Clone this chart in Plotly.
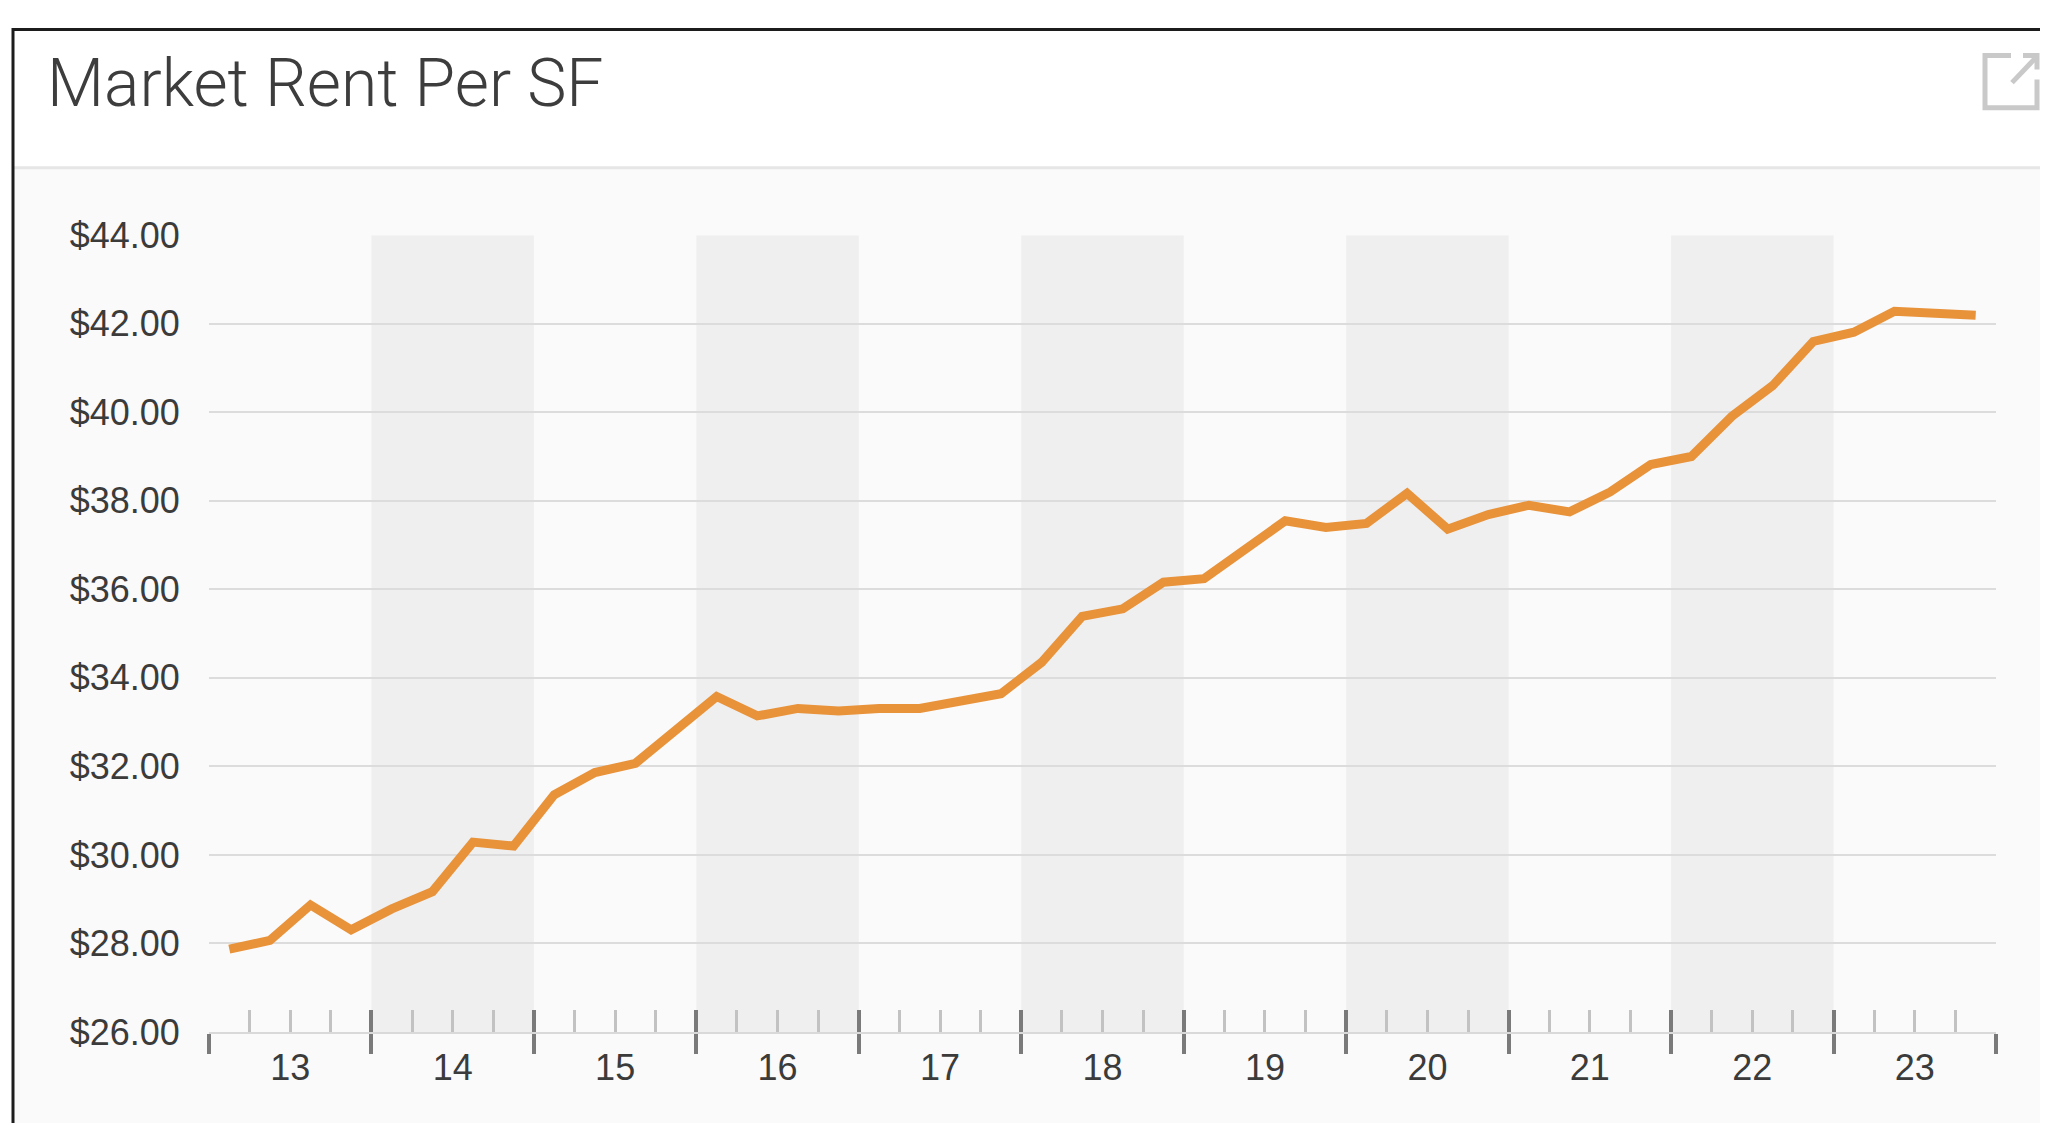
import plotly.graph_objects as go

# ---------------- data ----------------
years = [2013, 2014, 2015, 2016, 2017, 2018, 2019, 2020, 2021, 2022, 2023]
year_labels = ["13", "14", "15", "16", "17", "18", "19", "20", "21", "22", "23"]
quarters = [1, 2, 3, 4]
rent_per_sf = [
    27.87, 28.07, 28.87, 28.31,   # 2013
    28.78, 29.17, 30.29, 30.20,   # 2014
    31.36, 31.86, 32.07, 32.81,   # 2015
    33.58, 33.14, 33.31, 33.25,   # 2016
    33.31, 33.31, 33.46, 33.64,   # 2017
    34.35, 35.39, 35.56, 36.16,   # 2018
    36.24, 36.87, 37.55, 37.40,   # 2019
    37.49, 38.17, 37.36, 37.69,   # 2020
    37.90, 37.75, 38.20, 38.82,   # 2021
    39.00, 39.91, 40.60, 41.60,   # 2022
    41.81, 42.28, 42.25, 42.19,   # 2023
]
y_ticks = [26, 28, 30, 32, 34, 36, 38, 40, 42, 44]
y_tick_labels = ["$26.00", "$28.00", "$30.00", "$32.00", "$34.00",
                 "$36.00", "$38.00", "$40.00", "$42.00", "$44.00"]
shaded_years = [2014, 2016, 2018, 2020, 2022]
title_text = "Market Rent Per SF"

# derived positions (quarter centres, year boundaries, quarter ticks)
x_vals = [yr + (q - 0.5) / 4 for yr in years for q in quarters]
year_bounds = years + [years[-1] + 1]
year_centres = [yr + 0.5 for yr in years]
quarter_ticks = [yr + q / 4 for yr in years for q in (1, 2, 3)]

# ---------------- layout geometry ----------------
# figure size and how it lands in the captured page
W, H = 2040, 1136
OX, OY, SY = 8, 27.5, 0.962
# target page-pixel positions of the plot area
PL, PR, PT, PB = 209, 1996, 234.3, 1029.5


def px(x):
    return (x - OX) / W


def py(y):
    return 1 - ((y - OY) / SY) / H


LINE_COLOR = "#E8923A"
TEXT_COLOR = "#3b3b3b"
MAJOR_TICK = "#7a7a7a"
MINOR_TICK = "#c2c2c2"
ICON = "#c9c9c9"

fig = go.Figure()

fig.add_trace(go.Scatter(
    x=x_vals, y=rent_per_sf, mode="lines",
    line=dict(color=LINE_COLOR, width=9),
    hoverinfo="skip", showlegend=False,
))
# helper traces so the overlay axes get drawn
fig.add_trace(go.Scatter(x=x_vals, y=rent_per_sf, mode="none", xaxis="x2",
                         hoverinfo="skip", showlegend=False))
fig.add_trace(go.Scatter(x=x_vals, y=rent_per_sf, mode="none", xaxis="x3",
                         hoverinfo="skip", showlegend=False))

shapes = []
# card body background
shapes.append(dict(type="rect", xref="paper", yref="paper",
                   x0=px(14), x1=1, y0=0, y1=py(168),
                   fillcolor="#fafafa", line=dict(width=0), layer="below"))
# header separator
shapes.append(dict(type="line", xref="paper", yref="paper",
                   x0=px(14), x1=1, y0=py(167), y1=py(167),
                   line=dict(color="#e6e6e6", width=3), layer="below"))
# card border (top & left)
shapes.append(dict(type="line", xref="paper", yref="paper",
                   x0=px(12), x1=1, y0=py(OY + 1.5), y1=py(OY + 1.5),
                   line=dict(color="#1c1c1c", width=3)))
shapes.append(dict(type="line", xref="paper", yref="paper",
                   x0=px(13), x1=px(13), y0=0, y1=1,
                   line=dict(color="#1c1c1c", width=3)))
# alternating year bands
for yr in shaded_years:
    shapes.append(dict(type="rect", xref="x", yref="y",
                       x0=yr, x1=yr + 1, y0=y_ticks[0], y1=y_ticks[-1],
                       fillcolor="#efefef", line=dict(width=0), layer="below"))
# export icon
sq = "M {} {} L {} {} L {} {} L {} {} L {} {}".format(
    px(2011), py(55), px(1985), py(55), px(1985), py(107),
    px(2037), py(107), px(2037), py(79))
shapes.append(dict(type="path", xref="paper", yref="paper", path=sq,
                   line=dict(color=ICON, width=5)))
shapes.append(dict(type="line", xref="paper", yref="paper",
                   x0=px(2012), y0=py(82), x1=px(2035), y1=py(58),
                   line=dict(color=ICON, width=5)))
head = "M {} {} L {} {} L {} {}".format(
    px(2023), py(55), px(2037), py(55), px(2037), py(69))
shapes.append(dict(type="path", xref="paper", yref="paper", path=head,
                   line=dict(color=ICON, width=5)))

xdomain = [px(PL), px(PR)]
xrange_ = [year_bounds[0], year_bounds[-1]]

fig.update_layout(
    width=W, height=H,
    margin=dict(l=0, r=0, t=0, b=0),
    paper_bgcolor="white",
    plot_bgcolor="rgba(0,0,0,0)",
    showlegend=False,
    font=dict(family="Liberation Sans, Arial, sans-serif", color=TEXT_COLOR, size=36),
    shapes=shapes,
    xaxis=dict(
        domain=xdomain, range=xrange_, anchor="y",
        tickmode="array", tickvals=year_bounds, showticklabels=False,
        ticks="outside", ticklen=20, tickwidth=4, tickcolor=MAJOR_TICK,
        showline=True, linecolor="#d9d9d9", linewidth=2,
        showgrid=False, zeroline=False,
        minor=dict(tickmode="array", tickvals=quarter_ticks, ticks="inside",
                   ticklen=22, tickwidth=3, tickcolor=MINOR_TICK, showgrid=False),
    ),
    xaxis2=dict(
        domain=xdomain, range=xrange_, anchor="y", overlaying="x", side="bottom",
        tickmode="array", tickvals=year_bounds, showticklabels=False,
        ticks="inside", ticklen=22, tickwidth=4, tickcolor=MAJOR_TICK,
        showline=False, showgrid=False, zeroline=False,
    ),
    xaxis3=dict(
        domain=xdomain, range=xrange_, anchor="y", overlaying="x", side="bottom",
        tickmode="array", tickvals=year_centres, ticktext=year_labels,
        ticks="outside", ticklen=4, tickcolor="rgba(0,0,0,0)",
        tickfont=dict(size=36, color=TEXT_COLOR),
        showline=False, showgrid=False, zeroline=False,
    ),
    yaxis=dict(
        domain=[py(PB), py(PT)], range=[y_ticks[0], y_ticks[-1]],
        tickmode="array", tickvals=y_ticks, ticktext=y_tick_labels,
        tickfont=dict(size=36, color=TEXT_COLOR),
        ticks="outside", ticklen=21, tickcolor="rgba(0,0,0,0)",
        showgrid=True, gridcolor="#dcdcdc", gridwidth=2,
        showline=False, zeroline=False,
    ),
    annotations=[dict(
        text=title_text, xref="paper", yref="paper",
        x=px(45), y=py(83), xanchor="left", yanchor="middle",
        showarrow=False,
        font=dict(family="Roboto, Liberation Sans, sans-serif", size=66,
                  color="#3d3d3d", weight=300),
    )],
)

fig.write_html("out.html")
